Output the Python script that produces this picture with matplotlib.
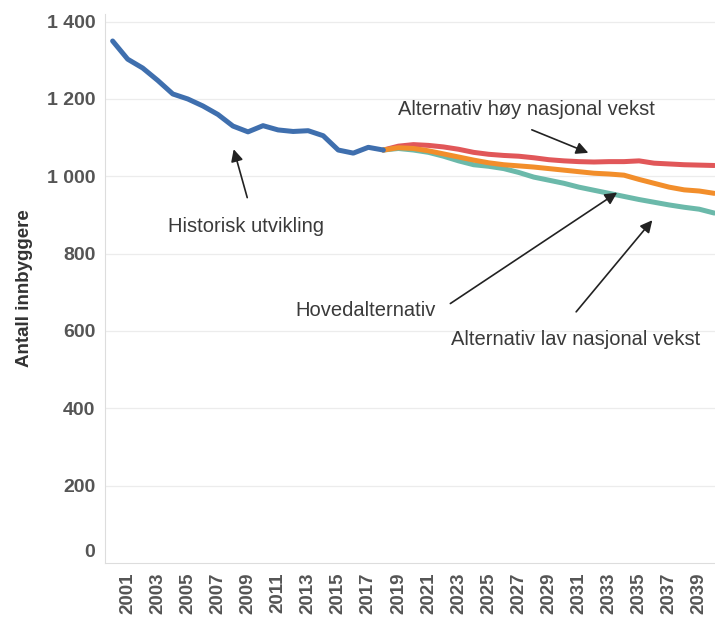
import matplotlib
matplotlib.use("Agg")
import matplotlib.pyplot as plt
from matplotlib.ticker import FuncFormatter
from matplotlib.transforms import ScaledTranslation

hist_years = list(range(2000, 2019))
hist_values = [1350, 1303, 1280, 1248, 1213, 1200, 1182, 1160, 1130, 1115,
               1131, 1120, 1116, 1118, 1105, 1068, 1060, 1075, 1068]

proj_years = list(range(2018, 2041))
high_values = [1068, 1078, 1082, 1080, 1076, 1070, 1062, 1057, 1054, 1052, 1048, 1043,
               1040, 1038, 1037, 1038, 1038, 1040, 1034, 1032, 1030, 1029, 1028]
main_values = [1068, 1074, 1072, 1066, 1058, 1050, 1042, 1035, 1030, 1027, 1024, 1020,
               1016, 1012, 1008, 1006, 1003, 992, 982, 972, 965, 962, 956]
low_values = [1068, 1072, 1068, 1062, 1052, 1040, 1030, 1026, 1020, 1010, 998, 990,
              982, 972, 964, 956, 948, 940, 933, 926, 920, 915, 905]

x_ticks = list(range(2001, 2040, 2))
y_ticks = [0, 200, 400, 600, 800, 1000, 1200, 1400]

plt.rcParams['font.family'] = ['Liberation Sans', 'DejaVu Sans']

fig = plt.figure(figsize=(7.15, 6.19), dpi=100)
ax = fig.add_axes([0.147, 0.0905, 0.853, 0.887])

for y in y_ticks[1:]:
    ax.axhline(y, color='#ececec', lw=0.9, zorder=0)

lw = 3.6
ax.plot(proj_years, low_values, color='#6bb9aa', lw=lw, solid_capstyle='round', zorder=3)
ax.plot(proj_years, main_values, color='#f28e2b', lw=lw, solid_capstyle='round', zorder=4)
ax.plot(proj_years, high_values, color='#e15759', lw=lw, solid_capstyle='round', zorder=2)
ax.plot(hist_years, hist_values, color='#3f6fae', lw=lw, solid_capstyle='round', zorder=5)

ax.set_xlim(1999.5, 2040.05)
ax.set_ylim(0, 1420)
ax.set_xticks(x_ticks)
ax.set_yticks(y_ticks)
ax.yaxis.set_major_formatter(FuncFormatter(lambda v, p: f"{int(v):,}".replace(",", " ")))
ax.tick_params(axis='x', rotation=90, length=0, labelsize=13.5, colors='#555555', pad=7)
ax.tick_params(axis='y', length=0, labelsize=14, colors='#555555', pad=7)
for lab in ax.get_xticklabels() + ax.get_yticklabels():
    lab.set_fontweight('bold')
zero_lab = ax.get_yticklabels()[0]
zero_lab.set_transform(zero_lab.get_transform() + ScaledTranslation(0, 9 / 72, fig.dpi_scale_trans))
ax.set_ylabel('Antall innbyggere', fontsize=13.5, fontweight='bold', color='#333333', labelpad=10)

for s in ['top', 'right']:
    ax.spines[s].set_visible(False)
ax.spines['left'].set_color('#dddddd')
ax.spines['bottom'].set_color('#dddddd')

arrow = dict(arrowstyle='-|>', color='#222222', lw=1.2, mutation_scale=18)
tc = '#3a3a3a'
fs = 14.5
ax.annotate('', xy=(2008.0, 1077), xytext=(2009.0, 938), arrowprops=arrow)
ax.text(2008.85, 871, 'Historisk utvikling', fontsize=fs, color=tc, ha='center', va='center')

ax.annotate('', xy=(2031.8, 1058), xytext=(2027.7, 1123), arrowprops=arrow)
ax.text(2027.5, 1172, 'Alternativ høy nasjonal vekst', fontsize=fs, color=tc, ha='center', va='center')

ax.annotate('', xy=(2033.7, 962), xytext=(2022.3, 667), arrowprops=arrow)
ax.text(2016.8, 652, 'Hovedalternativ', fontsize=fs, color=tc, ha='center', va='center')

ax.annotate('', xy=(2036.0, 892), xytext=(2030.7, 644), arrowprops=arrow)
ax.text(2030.8, 577, 'Alternativ lav nasjonal vekst', fontsize=fs, color=tc, ha='center', va='center')

fig.savefig('out.png', dpi=100)
